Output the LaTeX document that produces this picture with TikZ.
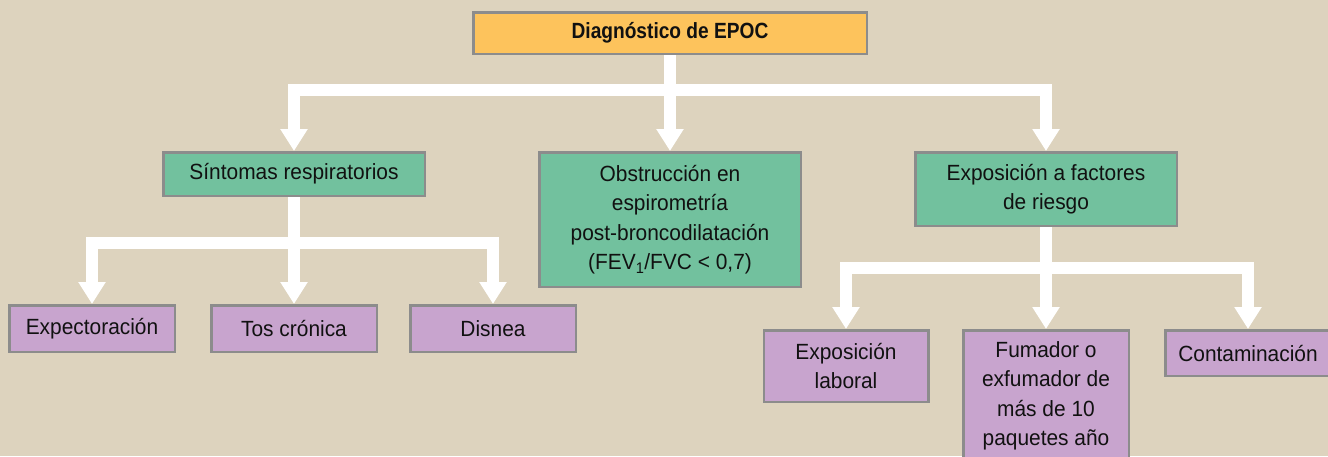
\documentclass[tikz,border=0pt]{standalone}
\usepackage{fontspec}
\setmainfont{Liberation Sans}[FakeStretch=0.95]
\newfontfamily\titlefont{Liberation Sans}[FakeStretch=0.87]
\usetikzlibrary{arrows.meta}
\definecolor{bgc}{RGB}{221,211,190}
\definecolor{orangec}{RGB}{253,195,92}
\definecolor{greenc}{RGB}{114,193,158}
\definecolor{purplec}{RGB}{200,164,206}
\definecolor{borderc}{RGB}{140,140,140}
\definecolor{txtc}{RGB}{17,17,17}
\tikzset{
  boxbase/.style={draw=borderc, line width=2.5pt, inner sep=0pt, align=center,
    text=txtc, font=\fontsize{22}{29.5}\selectfont},
  topbox/.style={boxbase, fill=orangec, font=\titlefont\bfseries\fontsize{22}{29.5}\selectfont},
  greenbox/.style={boxbase, fill=greenc},
  purplebox/.style={boxbase, fill=purplec},
  conn/.style={draw=white, line width=12pt, line join=miter,
    -{Triangle[width=26pt,length=22pt]}},
  plainconn/.style={draw=white, line width=12pt, line join=miter}
}
\begin{document}
\begin{tikzpicture}[x=1pt,y=-1pt]
\useasboundingbox (0,0) rectangle (1328,456);
\clip (0,0) rectangle (1328,456);
\fill[bgc] (0,0) rectangle (1328,456);

% nodes
\node[topbox, minimum width=393.5pt, minimum height=41.5pt] (top) at (670,33) {Diagnóstico de EPOC};

\node[greenbox, minimum width=261.5pt, minimum height=43.5pt] (sint) at (294,174) {Síntomas respiratorios};
\node[greenbox, minimum width=261.5pt, minimum height=134.5pt] (obst) at (670,219.5)
  {Obstrucción en\\espirometría\\post-broncodilatación\\(FEV\textsubscript{1}/FVC < 0,7)};
\node[greenbox, minimum width=261.5pt, minimum height=73.5pt] (expo) at (1046,189)
  {Exposición a factores\\de riesgo};

\node[purplebox, minimum width=165.5pt, minimum height=46.5pt] (expec) at (92,328.5) {Expectoración};
\node[purplebox, minimum width=165.5pt, minimum height=46.5pt] (tos) at (294,328.5) {Tos crónica};
\node[purplebox, minimum width=165.5pt, minimum height=46.5pt] (disn) at (493,328.5) {Disnea};

\node[purplebox, minimum width=164.5pt, minimum height=71.5pt] (lab) at (846,366) {Exposición\\laboral};
\node[purplebox, minimum width=165.5pt, minimum height=131.5pt] (fum) at (1046,396)
  {Fumador o\\exfumador de\\más de 10\\paquetes año};
\node[purplebox, minimum width=165.5pt, minimum height=45.5pt] (cont) at (1248,353) {Contaminación};

% junction coordinates (directly below each parent box)
\coordinate (j1) at ([yshift=-35pt]top.south);
\path (sint.south) ++(0,45.5) coordinate (j2);
\path (expo.south) ++(0,40.5) coordinate (j3);

% first level connectors
\draw[plainconn] (top.south) -- (j1);
\draw[conn] (j1) -| (sint.north);
\draw[conn] (j1) -| (obst.north);
\draw[conn] (j1) -| (expo.north);

% second level: symptoms
\draw[plainconn] (sint.south) -- (j2);
\draw[conn] (j2) -| (expec.north);
\draw[conn] (j2) -| (tos.north);
\draw[conn] (j2) -| (disn.north);

% second level: risk factors
\draw[plainconn] (expo.south) -- (j3);
\draw[conn] (j3) -| (lab.north);
\draw[conn] (j3) -| (fum.north);
\draw[conn] (j3) -| (cont.north);
\end{tikzpicture}
\end{document}
